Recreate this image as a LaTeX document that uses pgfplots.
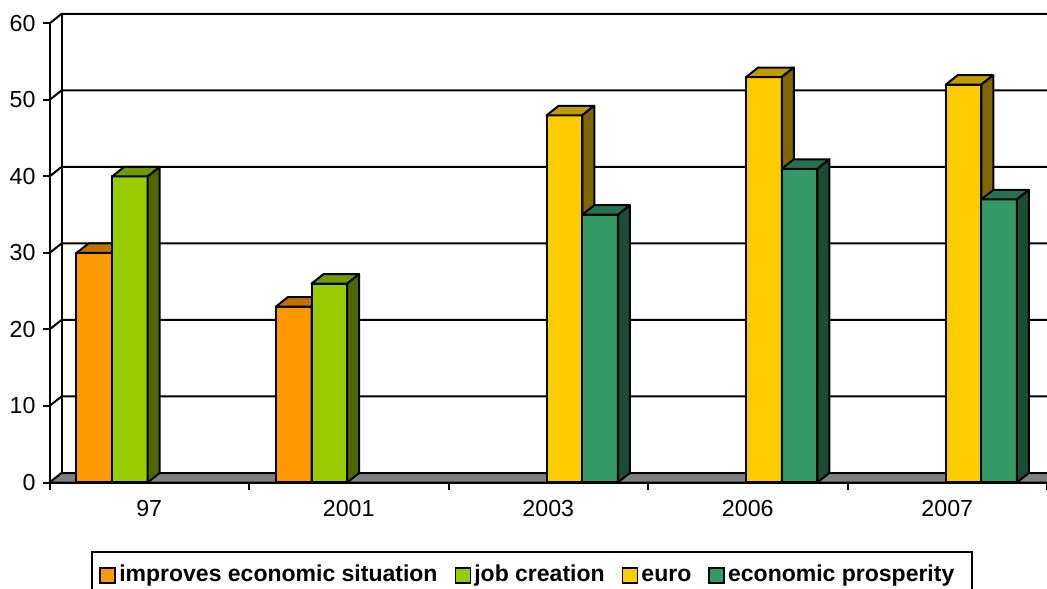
\documentclass[border=0pt]{standalone}
\usepackage{pgfplots}
\pgfplotsset{compat=1.18}
\usepackage{fontspec}
\setmainfont{Liberation Sans}

% face colours: front, top, side
\definecolor{Afront}{HTML}{FF9900}
\definecolor{Atop}{HTML}{C07300}
\definecolor{Aside}{HTML}{7F4C00}
\definecolor{Bfront}{HTML}{99CC00}
\definecolor{Btop}{HTML}{739900}
\definecolor{Bside}{HTML}{4D6600}
\definecolor{Cfront}{HTML}{FFCC00}
\definecolor{Ctop}{HTML}{C09A00}
\definecolor{Cside}{HTML}{806600}
\definecolor{Dfront}{HTML}{339966}
\definecolor{Dtop}{HTML}{267350}
\definecolor{Dside}{HTML}{1A4D33}
\definecolor{floorgray}{HTML}{808080}

% geometry in pt
\def\yu{3.825}   % pt per unit of value
\def\bw{17.8}    % bar width
\def\dx{6}       % depth offset
\def\dy{4.75}

% a 3D bar whose mark sits at (category, value): front, top and side faces
\newcommand\declarebar[2]{%
  \pgfdeclareplotmark{bar3d#1}{%
    \pgfmathsetmacro\bh{\barval*\yu}%
    \pgfmathsetmacro\xl{#2-\bw/2}%
    \pgfmathsetmacro\xr{#2+\bw/2}%
    \pgfmathsetmacro\xlb{\xl+\dx}%
    \pgfmathsetmacro\xrb{\xr+\dx}%
    \pgfmathsetmacro\yb{\dy-\bh}%
    \pgfsetlinewidth{1pt}%
    \pgfsetstrokecolor{black}%
    \pgfsetroundjoin
    \pgfsetfillcolor{#1front}%
    \pgfpathrectanglecorners{\pgfpoint{\xl pt}{-\bh pt}}{\pgfpoint{\xr pt}{0pt}}%
    \pgfusepath{fill,stroke}%
    \pgfsetfillcolor{#1top}%
    \pgfpathmoveto{\pgfpoint{\xl pt}{0pt}}%
    \pgfpathlineto{\pgfpoint{\xr pt}{0pt}}%
    \pgfpathlineto{\pgfpoint{\xrb pt}{\dy pt}}%
    \pgfpathlineto{\pgfpoint{\xlb pt}{\dy pt}}%
    \pgfpathclose
    \pgfusepath{fill,stroke}%
    \pgfsetfillcolor{#1side}%
    \pgfpathmoveto{\pgfpoint{\xr pt}{0pt}}%
    \pgfpathlineto{\pgfpoint{\xrb pt}{\dy pt}}%
    \pgfpathlineto{\pgfpoint{\xrb pt}{\yb pt}}%
    \pgfpathlineto{\pgfpoint{\xr pt}{-\bh pt}}%
    \pgfpathclose
    \pgfusepath{fill,stroke}%
  }}
\declarebar{A}{-27.5}
\declarebar{B}{-9.7}
\declarebar{C}{8.1}
\declarebar{D}{25.9}

\pgfplotsset{
  bar3d/.style={scatter, only marks, mark=bar3d#1,
    scatter/use mapped color={draw=black, fill=black},
    visualization depends on={rawy \as \barval},
    legend image code/.code={\draw[line width=0.9pt, fill=#1front] (0pt,-3.75pt) rectangle (7.5pt,3.75pt);}},
  wall/.style={black, line width=1pt, forget plot, no marks},
}

\begin{document}
\begin{tikzpicture}
\useasboundingbox (0,0) rectangle (523.5pt,294pt);
\begin{axis}[
  at={(24.75pt,52.75pt)}, anchor=south west,
  x=99.75pt, y=3.825pt,
  xmin=0, xmax=5, ymin=0, ymax=60,
  enlargelimits=false, clip=false,
  axis lines*=left,
  axis line style={line width=1pt, black},
  ytick={0,10,...,60},
  xtick={0,1,...,5}, xticklabels={},
  extra x ticks={0.5,1.5,2.5,3.5,4.5},
  extra x tick labels={97,2001,2003,2006,2007},
  extra x tick style={major tick length=0pt, xticklabel style={yshift=-5.5pt}},
  tick align=outside, major tick length=3.5pt,
  tick style={line width=1pt, black},
  tick label style={font=\fontsize{11.6}{13}\selectfont},
  /pgf/number format/assume math mode=true,
  legend columns=4,
  legend cell align=left,
  legend style={at={(0.0421,-0.1492)}, anchor=north west, draw=black, line width=1pt,
    font=\bfseries\fontsize{11.5}{13}\selectfont, inner xsep=3.5pt, inner ysep=4pt,
    /tikz/every even column/.append style={column sep=7pt},
    nodes={inner xsep=1.5pt, inner ysep=2pt, text height=8.6pt, text depth=2.6pt}},
]
% floor
\addplot[fill=floorgray, draw=black, line width=1pt, forget plot, no marks]
  coordinates {(0,0) (5,0) (5.06015,1.24183) (0.06015,1.24183)} -- cycle;
% left wall edge and back-wall gridlines
\addplot[wall] coordinates {(0.06015,1.24183) (0.06015,61.24183)};
\addplot[wall] coordinates {(0,10) (0.06015,11.24183) (5.06015,11.24183)};
\addplot[wall] coordinates {(0,20) (0.06015,21.24183) (5.06015,21.24183)};
\addplot[wall] coordinates {(0,30) (0.06015,31.24183) (5.06015,31.24183)};
\addplot[wall] coordinates {(0,40) (0.06015,41.24183) (5.06015,41.24183)};
\addplot[wall] coordinates {(0,50) (0.06015,51.24183) (5.06015,51.24183)};
\addplot[wall] coordinates {(0,60) (0.06015,61.24183) (5.06015,61.24183)};

\addplot[bar3d=A] coordinates {(0.5,30) (1.5,23)};
\addlegendentry{improves economic situation}
\addplot[bar3d=B] coordinates {(0.5,40) (1.5,26)};
\addlegendentry{job creation}
\addplot[bar3d=C] coordinates {(2.5,48) (3.5,53) (4.5,52)};
\addlegendentry{euro}
\addplot[bar3d=D] coordinates {(2.5,35) (3.5,41) (4.5,37)};
\addlegendentry{economic prosperity\kern4pt}
\end{axis}
\end{tikzpicture}
\end{document}
